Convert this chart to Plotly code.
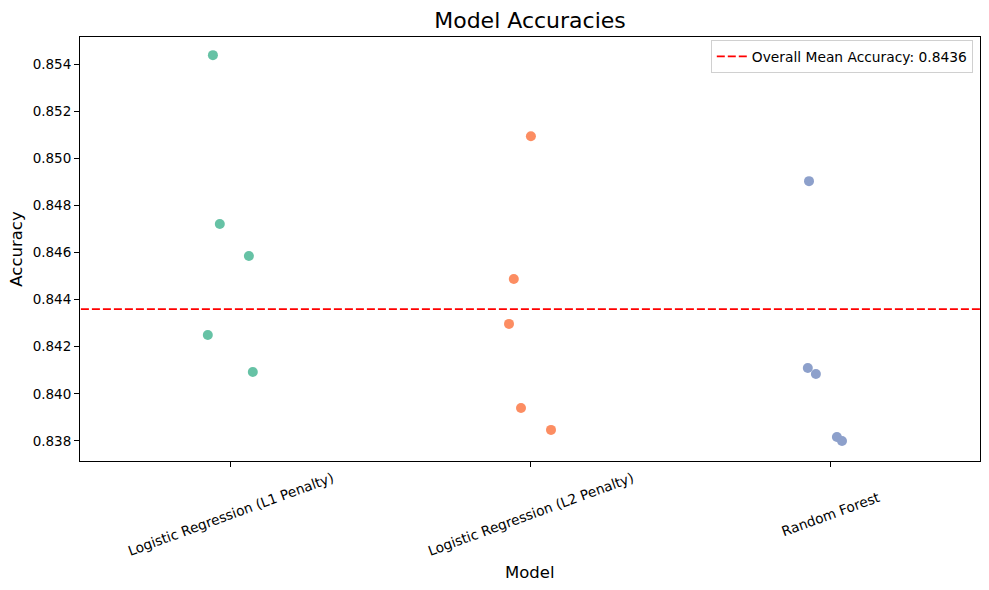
import plotly.graph_objects as go

models = ["Logistic Regression (L1 Penalty)", "Logistic Regression (L2 Penalty)", "Random Forest"]
colors = ["#66c2a5", "#fc8d62", "#8da0cb"]

acc_l1 = [0.85438, 0.84721, 0.84585, 0.84250, 0.84093]
acc_l2 = [0.85094, 0.84488, 0.84297, 0.83940, 0.83847]
acc_rf = [0.84903, 0.84110, 0.84084, 0.83817, 0.83800]

jit_l1 = [-0.060, -0.037, 0.060, -0.077, 0.073]
jit_l2 = [0.000, -0.057, -0.073, -0.033, 0.067]
jit_rf = [-0.073, -0.077, -0.050, 0.020, 0.037]

mean_acc = 0.8436
mean_label = "Overall Mean Accuracy: 0.8436"

FONT = "DejaVu Sans"
fig = go.Figure()

for i, (vals, jit) in enumerate([(acc_l1, jit_l1), (acc_l2, jit_l2), (acc_rf, jit_rf)]):
    fig.add_trace(go.Scatter(
        x=[i + j for j in jit], y=vals, mode="markers",
        marker=dict(size=10, color=colors[i], line=dict(width=0)),
        showlegend=False, name=models[i]))

fig.add_trace(go.Scatter(
    x=[-0.5, 2.5], y=[mean_acc, mean_acc], mode="lines",
    line=dict(color="red", width=1.8, dash="8px,3px"),
    name=mean_label, showlegend=True))

for i, m in enumerate(models):
    fig.add_annotation(x=i, y=-0.125, xref="x", yref="paper", text=m, showarrow=False,
                       textangle=-20, xanchor="center", yanchor="middle",
                       font=dict(family=FONT, size=13.7, color="black"))

fig.add_annotation(x=0.5, y=-0.262, xref="paper", yref="paper", text="Model", showarrow=False,
                   xanchor="center", yanchor="middle",
                   font=dict(family=FONT, size=16.5, color="black"))

fig.update_layout(
    width=989, height=590,
    margin=dict(l=80, r=9, t=37, b=129),
    paper_bgcolor="white", plot_bgcolor="white",
    font=dict(family=FONT, color="black"),
    title=dict(text="Model Accuracies", x=0.5, xref="paper", xanchor="center",
               y=0.966, yref="container", yanchor="middle",
               font=dict(family=FONT, size=22, color="black")),
    legend=dict(x=0.992, y=0.993, xanchor="right", yanchor="top",
                bgcolor="rgba(255,255,255,0.8)", bordercolor="#d0d0d0", borderwidth=1,
                font=dict(family=FONT, size=13.8, color="black")),
    xaxis=dict(range=[-0.503, 2.497], tickvals=[0, 1, 2], ticktext=["", "", ""],
               showgrid=False, zeroline=False, showline=True, mirror=True,
               linecolor="black", linewidth=1, ticks="outside", ticklen=5,
               tickcolor="black", automargin=False),
    yaxis=dict(range=[0.83715, 0.85515], tickvals=[0.838, 0.840, 0.842, 0.844, 0.846, 0.848, 0.850, 0.852, 0.854],
               tickformat=".3f", showgrid=False, zeroline=False, showline=True, mirror=True,
               linecolor="black", linewidth=1, ticks="outside", ticklen=5, tickcolor="black",
               tickfont=dict(family=FONT, size=13.5), automargin=False,
               title=dict(text="Accuracy", font=dict(family=FONT, size=16.5), standoff=5)),
)

fig.write_html("out.html", config={"displayModeBar": False},
               post_script="document.body.style.margin='0';document.body.style.overflow='hidden';")
